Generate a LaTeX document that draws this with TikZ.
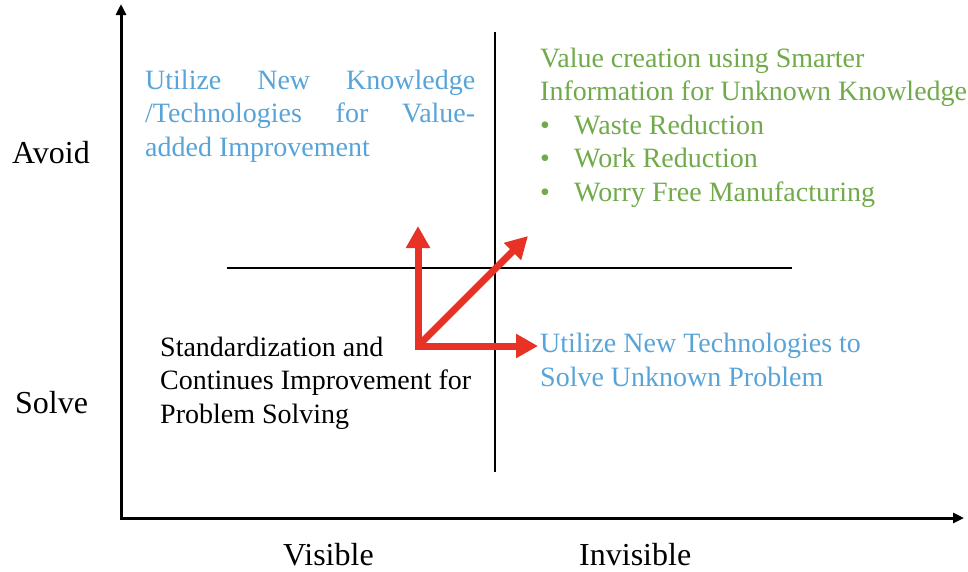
\documentclass[tikz,border=0pt]{standalone}
\usepackage{fontspec}
\setmainfont{Liberation Serif}
\usetikzlibrary{arrows.meta}
\definecolor{quadblue}{RGB}{88,164,216}
\definecolor{quadgreen}{RGB}{112,170,74}
\definecolor{quadred}{RGB}{232,50,38}
\def\bigfont{\fontsize{32}{38}\selectfont}
\def\txtfont{\fontsize{28}{33.5}\selectfont}

\begin{document}
\begin{tikzpicture}[x=1pt,y=-1pt,
  axislabel/.style={font=\bigfont, inner sep=0pt},
  quadtext/.style={font=\txtfont, inner sep=0pt, anchor=base west, align=left},
  quadline/.style={line width=1.4pt},
  push/.style={quadred, line width=7pt, {Triangle[length=22pt,width=23pt]}-{Triangle[length=22pt,width=23pt]}}]
  \useasboundingbox (0,0) rectangle (968,571);
  % axes
  \coordinate (origin) at (121,518);
  \coordinate (ytop) at (121,4);
  \coordinate (xend) at (964,518);
  \draw[line width=3pt, {Triangle[length=11pt,width=10pt]}-{Triangle[length=11pt,width=10pt]}]
    (ytop) -- (origin) -- (xend);
  % quadrant lines
  \coordinate (vtop) at (495,32);
  \coordinate (vbot) at (495,472);
  \coordinate (hleft) at (227,268);
  \coordinate (hright) at (792,268);
  \draw[quadline] (vtop) -- (vbot);
  \draw[quadline] (hleft) -- (hright);
  % axis labels
  \node[axislabel, anchor=base west] (avoid) at (12,163) {Avoid};
  \node[axislabel, anchor=base west] (solve) at (15,413) {Solve};
  \node[axislabel, anchor=base west] (visible) at (283,565) {Visible};
  \node[axislabel, anchor=base west] (invisible) at (579,565) {Invisible};
  % quadrant texts (base = last line, except the justified one)
  \node[quadtext, quadblue, text width=330pt, align=justify] (newknow) at (145,89)
    {Utilize New Knowledge\linebreak /Technologies for Value-\linebreak added Improvement};
  \node[quadtext, quadgreen] (smarter) at (540,201)
    {Value creation using Smarter\\
     Information for Unknown Knowledge\\
     \makebox[34pt][l]{\textbullet}Waste Reduction\\
     \makebox[34pt][l]{\textbullet}Work Reduction\\
     \makebox[34pt][l]{\textbullet}Worry Free Manufacturing};
  \node[quadtext] (standard) at (160,423)
    {Standardization and\\Continues Improvement for\\Problem Solving};
  \node[quadtext, quadblue] (newtech) at (540,386)
    {Utilize New Technologies to\\Solve Unknown Problem};
  % red arrows
  \coordinate (o) at (418,346);
  \coordinate (up) at (418,226);
  \coordinate (right) at (538,346);
  \coordinate (diag) at (528,236);
  \draw[push] (up) -- (o) -- (right);
  \draw[push, -{Triangle[length=22pt,width=23pt]}] (o) -- (diag);
\end{tikzpicture}
\end{document}
